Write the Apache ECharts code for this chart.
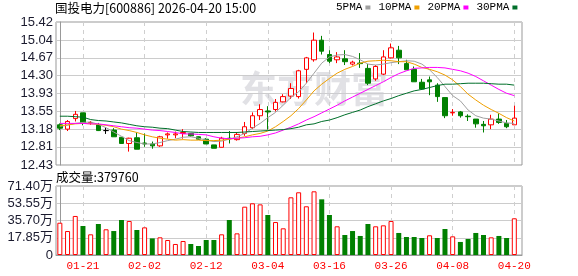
<!DOCTYPE html>
<html><head><meta charset="utf-8">
<script src="https://cdn.jsdelivr.net/npm/echarts@6/dist/echarts.min.js"></script>
<style>html,body{margin:0;padding:0;background:#fff}#c{width:578px;height:276px}</style>
</head><body><div id="c"></div>
<script>
const dates = ['01-16','01-19','01-20','01-21','01-22','01-23','01-26','01-27','01-28','01-29','01-30',
'02-02','02-03','02-04','02-05','02-06','02-09','02-10','02-11','02-12','02-13',
'02-24','02-25','02-26','02-27','03-02','03-03','03-04','03-05','03-06','03-09','03-10','03-11','03-12','03-13',
'03-16','03-17','03-18','03-19','03-20','03-23','03-24','03-25','03-26','03-27','03-30','03-31',
'04-01','04-02','04-03','04-07','04-08','04-09','04-10','04-13','04-14','04-15','04-16','04-17','04-20'];
const opens  = [13.27,13.18,13.40,13.52,13.31,13.27,13.15,13.16,13.01,12.88,13.00,12.89,12.87,12.83,13.06,13.06,13.09,13.09,13.02,12.97,
12.85,12.80,12.99,12.96,13.09,13.21,13.46,13.56,13.59,13.75,13.87,13.86,14.43,14.63,15.04,14.74,14.63,14.65,14.54,14.56,
14.45,14.23,14.33,14.67,14.83,14.55,14.43,14.16,14.21,14.10,13.84,13.52,13.54,13.45,13.39,13.28,13.27,13.39,13.30,13.27];
const closes = [13.20,13.34,13.49,13.31,13.32,13.15,13.15,13.02,12.88,12.99,12.76,12.87,12.83,13.02,13.08,13.08,13.11,13.04,12.97,12.87,
12.78,12.99,12.98,13.07,13.23,13.46,13.59,13.54,13.74,13.86,14.03,14.40,14.67,15.04,14.81,14.60,14.69,14.59,14.58,14.55,
14.14,14.49,14.69,14.88,14.67,14.42,14.17,14.02,14.17,13.86,13.46,13.53,13.46,13.44,13.29,13.25,13.39,13.32,13.23,13.41];
const lows   = [13.16,13.14,13.34,13.26,13.27,13.14,13.08,13.02,12.88,12.71,12.76,12.81,12.77,12.81,12.98,12.99,12.98,13.02,12.96,12.87,
12.78,12.80,12.88,12.94,13.04,13.18,13.37,13.17,13.55,13.74,13.81,13.82,14.14,14.59,14.74,14.56,14.56,14.52,14.51,14.46,
14.10,14.19,14.31,14.66,14.54,14.42,14.17,14.00,13.89,13.75,13.41,13.46,13.42,13.35,13.21,13.11,13.18,13.29,13.20,13.27];
const highs  = [13.30,13.37,13.56,13.52,13.35,13.31,13.22,13.20,13.01,13.00,13.11,13.09,12.92,13.04,13.11,13.13,13.18,13.10,13.03,12.99,
12.85,13.02,13.14,13.11,13.33,13.53,13.70,13.66,13.81,13.91,14.14,14.42,14.69,15.20,15.13,14.83,14.79,14.83,14.61,14.77,
14.54,14.52,14.83,14.97,14.92,14.63,14.49,14.23,14.28,14.14,13.84,13.60,13.56,13.49,13.39,13.35,13.48,13.51,13.37,13.67];
const volumes = [334000,248000,404000,300000,214000,321000,266000,248000,362000,352000,259000,286000,172000,183000,155000,114000,145000,114000,93000,155000,
155000,214000,362000,224000,500000,535000,524000,414000,341000,276000,597000,649000,504000,659000,576000,414000,297000,207000,248000,197000,
321000,297000,307000,352000,228000,186000,186000,176000,204000,176000,269000,193000,135000,166000,228000,207000,183000,197000,176000,379760];
const volUp = [1,1,1,0,1,0,1,0,0,1,0,1,0,1,1,1,1,0,0,0,0,1,0,1,1,1,1,0,1,1,1,1,1,1,0,0,1,0,0,0,0,1,1,1,0,0,0,0,1,0,0,1,0,0,0,0,1,0,0,1];
const ma5  = [13.24,13.26,13.30,13.32,13.33,13.28,13.21,13.12,13.03,12.94,12.90,12.87,12.87,12.90,12.94,12.97,13.01,13.02,12.99,12.95,
12.92,12.93,12.97,13.02,13.09,13.20,13.30,13.42,13.53,13.68,13.84,13.96,14.14,14.35,14.56,14.69,14.73,14.74,14.70,14.63,
14.54,14.52,14.54,14.57,14.59,14.61,14.60,14.54,14.42,14.26,14.07,13.88,13.77,13.58,13.46,13.41,13.39,13.35,13.31,13.30];
const ma10 = [13.25,13.27,13.29,13.30,13.29,13.28,13.26,13.23,13.18,13.15,13.11,13.06,13.02,12.99,12.97,12.95,12.96,12.95,12.95,12.94,
12.94,12.95,12.97,12.99,13.02,13.06,13.09,13.14,13.23,13.34,13.46,13.61,13.79,13.98,14.12,14.24,14.35,14.43,14.49,14.56,
14.60,14.61,14.62,14.61,14.59,14.59,14.54,14.47,14.43,14.38,14.31,14.21,14.07,13.91,13.79,13.68,13.59,13.51,13.42,13.35];
const ma20 = [13.30,13.30,13.30,13.30,13.29,13.29,13.27,13.25,13.23,13.21,13.20,13.18,13.16,13.15,13.13,13.11,13.08,13.08,13.07,13.06,
13.02,12.99,12.98,12.99,13.00,13.02,13.03,13.06,13.10,13.16,13.22,13.29,13.37,13.44,13.52,13.60,13.68,13.77,13.85,13.93,
14.01,14.09,14.17,14.26,14.34,14.40,14.45,14.46,14.47,14.47,14.46,14.43,14.40,14.35,14.28,14.19,14.10,14.01,13.93,13.88];
const ma30 = [13.45,13.45,13.44,13.43,13.38,13.36,13.35,13.33,13.31,13.28,13.25,13.23,13.22,13.20,13.19,13.16,13.13,13.12,13.11,13.11,
13.11,13.11,13.11,13.11,13.12,13.13,13.14,13.15,13.16,13.17,13.19,13.22,13.27,13.29,13.34,13.37,13.42,13.48,13.53,13.58,
13.65,13.71,13.77,13.82,13.88,13.93,13.98,14.01,14.05,14.09,14.12,14.12,14.13,14.14,14.14,14.14,14.13,14.12,14.12,14.10];
const priceTicks = [12.43,12.81,13.18,13.55,13.93,14.30,14.67,15.04,15.42];
const volTicks = [0,178500,357000,535500,714000];
const dateTicks = ['01-21','02-02','02-12','03-04','03-16','03-26','04-08','04-20'];
const titleText = '国投电力[600886] 2026-04-20 15:00';
const volTitle = '成交量:379760';
const maNames = ['5PMA','10PMA','20PMA','30PMA'];

const tickIdx = dateTicks.map(d => dates.indexOf(d));
const candleData = dates.map((d,i) => {
  const item = {value:[i, opens[i], closes[i], lows[i], highs[i]]};
  if (opens[i] === closes[i]) item.itemStyle = {borderColor:'#000', borderColor0:'#000', color:'#000', color0:'#000'};
  return item;
});
const volData = volumes.map((v,i) => ({value:[i, v], itemStyle: volUp[i] ? {color:'#fff', borderColor:'#f00', borderWidth:1} : {color:'#008000', borderWidth:0}}));
const maColors = ['#a0a0a0','#f0a000','#ff00ff','#006f2a'];
const maSeries = [ma5, ma10, ma20, ma30].map((arr,k) => ({
  name: maNames[k], type:'line', xAxisIndex:0, yAxisIndex:0, showSymbol:false, symbol:'none', z:4,
  lineStyle:{width:1, color:maColors[k]}, itemStyle:{color:maColors[k]},
  data: arr.map((v,i)=>[i,v]), silent:true
}));

const chart = echarts.init(document.getElementById('c'), null, {renderer:'canvas'});
const splitX = {show:true, lineStyle:{color:'#cfcfcf', type:[4,4], width:1}};
chart.setOption({
  animation:false,
  backgroundColor:'#fff',
  title:[
    {text:titleText, left:55, top:2, padding:0, textStyle:{fontSize:12.5, fontWeight:'normal', color:'#000', fontFamily:'Noto Sans CJK SC'}},
    {text:volTitle, left:56, top:171, padding:0, textStyle:{fontSize:12.5, fontWeight:'normal', color:'#000', fontFamily:'Noto Sans CJK SC'}}
  ],
  legend:{left:336, top:2, padding:0, align:'right', icon:'rect', itemWidth:5, itemHeight:4, itemGap:8, selectedMode:false,
    textStyle:{fontSize:11, color:'#000', fontFamily:'Liberation Mono', padding:[0,-2,0,0]}, data:maNames},
  graphic:[{type:'text', left:240, top:70, z:1, silent:true,
    style:{text:'东方财富', fontSize:37, fontWeight:'bold', fontFamily:'Noto Sans CJK SC', fill:'rgba(205,205,212,0.6)'}}],
  grid:[
    {left:56, right:56, top:22, height:143, show:true, borderColor:'#999', borderWidth:1},
    {left:56, right:56, top:186, height:69, show:true, borderColor:'#999', borderWidth:1}
  ],
  xAxis:[
    {type:'value', gridIndex:0, min:-0.5, max:60, axisLine:{show:false}, axisLabel:{show:false, customValues:tickIdx},
      axisTick:{show:false, customValues:tickIdx}, splitLine:splitX},
    {type:'value', gridIndex:1, min:-0.5, max:60, axisLine:{show:true, lineStyle:{color:'#999'}},
      axisTick:{show:false, customValues:tickIdx},
      axisLabel:{customValues:tickIdx, color:'#f00', fontSize:11, fontFamily:'Liberation Mono', margin:6,
        formatter:v => dates[Math.round(v)]},
      splitLine:splitX}
  ],
  yAxis:[
    {type:'value', gridIndex:0, min:priceTicks[0], max:priceTicks[priceTicks.length-1], scale:true,
      axisLine:{show:true, lineStyle:{color:'#999'}}, axisTick:{show:false, customValues:priceTicks},
      axisLabel:{customValues:priceTicks, color:'#1a1a2e', fontSize:13, fontFamily:'Liberation Sans', margin:3, formatter:v=>v.toFixed(2)},
      splitLine:{show:true, lineStyle:{color:'#cccccc', width:1}}},
    {type:'value', gridIndex:1, min:volTicks[0], max:volTicks[volTicks.length-1], interval:volTicks[1]-volTicks[0],
      axisLine:{show:true, lineStyle:{color:'#999'}}, axisTick:{show:false},
      axisLabel:{color:'#1a1a2e', fontSize:13, fontFamily:'Liberation Sans, Noto Sans CJK SC', margin:3,
        formatter:v=> v===0 ? '0' : (v/10000).toFixed(2)+'万'},
      splitLine:{show:true, lineStyle:{color:'#cccccc', width:1}}}
  ],
  series:[
    {type:'candlestick', xAxisIndex:0, yAxisIndex:0, barWidth:5, z:3, silent:true,
      itemStyle:{color:'#fff', color0:'#008000', borderColor:'#f00', borderColor0:'#008000', borderColorDoji:'#000', borderWidth:1},
      data:candleData},
    ...maSeries,
    {type:'bar', xAxisIndex:1, yAxisIndex:1, barWidth:5, silent:true, data:volData}
  ]
});
</script></body></html>
